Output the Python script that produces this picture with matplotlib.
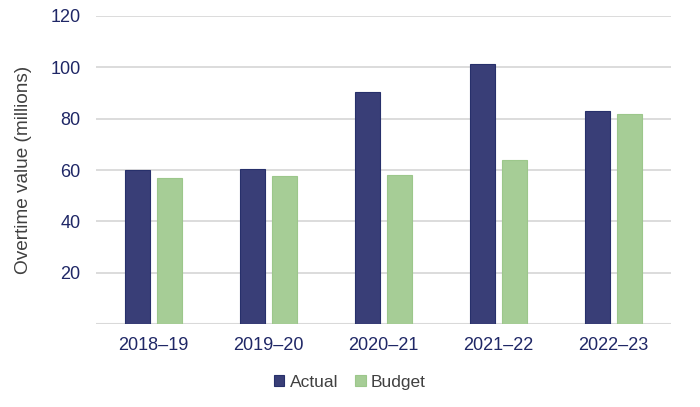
import numpy as np
import matplotlib.pyplot as plt

plt.rcParams['font.family'] = ['Liberation Sans', 'DejaVu Sans']

# Данные
years = ['2018–19', '2019–20', '2020–21', '2021–22', '2022–23']
actual = [60.0, 60.5, 90.5, 101.4, 82.8]
budget = [57.0, 57.5, 58.2, 63.7, 81.7]

navy = '#393E77'
green = '#A6CD96'
tick_col = '#1F2766'

fig = plt.figure(figsize=(7.0, 4.07), dpi=100)
ax = fig.add_axes([0.137, 0.2032, 0.8216, 0.7582])

x = np.arange(len(years))
w = 0.22
ax.bar(x - 0.14, actual, w, color=navy, edgecolor='#27306B', linewidth=0.8, label='Actual', zorder=3)
ax.bar(x + 0.14, budget, w, color=green, edgecolor='#9CC78B', linewidth=0.8, label='Budget', zorder=3)

ax.set_xlim(-0.5, len(years) - 0.5)
ax.set_ylim(0, 120)
ax.set_yticks([20, 40, 60, 80, 100, 120])
ax.set_xticks(x)
ax.set_xticklabels(years)
ax.grid(axis='y', color='#D9D9D9', linewidth=1.3, zorder=0)
ax.axhline(0, color='#D9D9D9', linewidth=1.5, zorder=2)
for s in ax.spines.values():
    s.set_visible(False)
ax.tick_params(axis='both', length=0, labelsize=13, colors=tick_col)
ax.tick_params(axis='x', pad=9)
ax.tick_params(axis='y', pad=11)
ax.set_ylabel('Overtime value (millions)', fontsize=13.7, color='#404040', labelpad=13)

fig.legend(*ax.get_legend_handles_labels(), loc='center', bbox_to_anchor=(0.5, 0.06),
           ncol=2, frameon=False, fontsize=12.5, handlelength=0.6, handleheight=0.6,
           handletextpad=0.3, columnspacing=1.0, labelcolor='#404040')

plt.savefig('out.png', dpi=100)
